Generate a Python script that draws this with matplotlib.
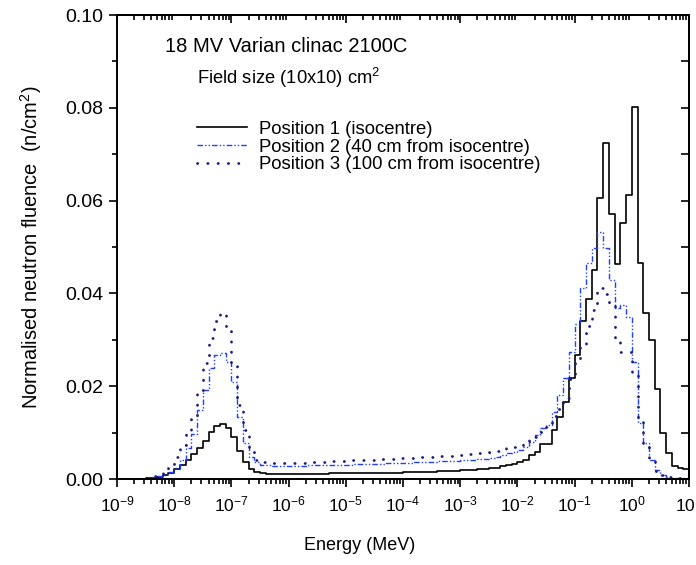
import numpy as np
import matplotlib
matplotlib.use("Agg")
import matplotlib.pyplot as plt
from matplotlib.ticker import LogLocator, MultipleLocator, FormatStrFormatter, NullFormatter

plt.rcParams['font.family'] = ['Liberation Sans', 'DejaVu Sans']
plt.rcParams['mathtext.fontset'] = 'custom'
plt.rcParams['mathtext.rm'] = 'Liberation Sans'

# 10 bins per decade, 1e-9 .. 10 MeV
edges = np.logspace(-9, 1, 101)

# Position 1 (isocentre)
pos1 = [
    0.0000, 0.0000, 0.0000, 0.0001, 0.0001, 0.0002, 0.0003, 0.0005, 0.0008, 0.0013,
    0.0021, 0.0031, 0.0041, 0.0054, 0.0067, 0.0082, 0.0102, 0.0115, 0.0119, 0.0110,
    0.0091, 0.0061, 0.0037, 0.0021, 0.0015, 0.0012, 0.0011, 0.0011, 0.0011, 0.0011,
    0.0011, 0.0011, 0.0011, 0.0011, 0.0011, 0.0011, 0.0011, 0.0012, 0.0012, 0.0012,
    0.0012, 0.0012, 0.0012, 0.0013, 0.0013, 0.0013, 0.0013, 0.0014, 0.0014, 0.0014,
    0.0015, 0.0015, 0.0015, 0.0016, 0.0016, 0.0016, 0.0017, 0.0017, 0.0018, 0.0018,
    0.0019, 0.0019, 0.0020, 0.0021, 0.0022, 0.0023, 0.0024, 0.0027, 0.0030, 0.0033,
    0.0036, 0.0042, 0.0052, 0.0059, 0.0075, 0.0076, 0.0106, 0.0133, 0.0165, 0.0217,
    0.0267, 0.0340, 0.0389, 0.0450, 0.0606, 0.0724, 0.0572, 0.0464, 0.0551, 0.0611,
    0.0801, 0.0465, 0.0357, 0.0300, 0.0195, 0.0100, 0.0055, 0.0027, 0.0023, 0.0021,
]

# Position 2 (40 cm from isocentre)
pos2 = [
    0.0000, 0.0000, 0.0001, 0.0001, 0.0001, 0.0002, 0.0004, 0.0006, 0.0010, 0.0015,
    0.0023, 0.0041, 0.0066, 0.0098, 0.0149, 0.0192, 0.0239, 0.0267, 0.0272, 0.0253,
    0.0210, 0.0134, 0.0077, 0.0048, 0.0036, 0.0031, 0.0030, 0.0029, 0.0029, 0.0029,
    0.0029, 0.0029, 0.0029, 0.0030, 0.0030, 0.0030, 0.0030, 0.0031, 0.0031, 0.0031,
    0.0031, 0.0032, 0.0032, 0.0032, 0.0033, 0.0033, 0.0033, 0.0034, 0.0034, 0.0035,
    0.0035, 0.0035, 0.0036, 0.0036, 0.0037, 0.0037, 0.0038, 0.0038, 0.0039, 0.0039,
    0.0040, 0.0041, 0.0042, 0.0043, 0.0044, 0.0046, 0.0048, 0.0051, 0.0055, 0.0059,
    0.0063, 0.0070, 0.0080, 0.0095, 0.0109, 0.0116, 0.0145, 0.0181, 0.0217, 0.0274,
    0.0334, 0.0411, 0.0465, 0.0497, 0.0533, 0.0497, 0.0429, 0.0368, 0.0375, 0.0350,
    0.0253, 0.0120, 0.0077, 0.0041, 0.0019, 0.0009, 0.0004, 0.0003, 0.0002, 0.0002,
]

# Position 3 (100 cm from isocentre)
pos3 = [
    0.0000, 0.0000, 0.0001, 0.0001, 0.0002, 0.0003, 0.0006, 0.0010, 0.0018, 0.0030,
    0.0048, 0.0073, 0.0097, 0.0130, 0.0192, 0.0250, 0.0303, 0.0340, 0.0358, 0.0325,
    0.0250, 0.0160, 0.0105, 0.0060, 0.0042, 0.0036, 0.0035, 0.0035, 0.0035, 0.0035,
    0.0035, 0.0035, 0.0035, 0.0036, 0.0036, 0.0037, 0.0037, 0.0038, 0.0039, 0.0039,
    0.0040, 0.0040, 0.0041, 0.0041, 0.0042, 0.0042, 0.0043, 0.0044, 0.0044, 0.0045,
    0.0045, 0.0046, 0.0046, 0.0047, 0.0047, 0.0048, 0.0049, 0.0049, 0.0050, 0.0051,
    0.0052, 0.0053, 0.0054, 0.0055, 0.0056, 0.0058, 0.0060, 0.0063, 0.0066, 0.0070,
    0.0074, 0.0078, 0.0083, 0.0090, 0.0102, 0.0113, 0.0135, 0.0150, 0.0175, 0.0215,
    0.0250, 0.0290, 0.0330, 0.0365, 0.0411, 0.0398, 0.0375, 0.0296, 0.0274, 0.0274,
    0.0230, 0.0130, 0.0070, 0.0038, 0.0018, 0.0008, 0.0004, 0.0002, 0.0002, 0.0001,
]

labels = ["Position 1 (isocentre)",
          "Position 2 (40 cm from isocentre)",
          "Position 3 (100 cm from isocentre)"]


def steps(vals):
    return np.append(vals, vals[-1])


fig = plt.figure(figsize=(6.96, 5.65), dpi=100)
ax = fig.add_axes([117 / 696, 86 / 565, 572 / 696, 464 / 565])

ax.step(edges, steps(pos1), where="post", color="black", lw=1.2, label=labels[0])
ax.step(edges, steps(pos2), where="post", color="#1f3fff", lw=1.0,
        linestyle=(0, (4, 1.5, 1, 1.5, 1, 1.5)), label=labels[1])
ax.step(edges, steps(pos3), where="post", color="#1c1c80", lw=2.0,
        linestyle=(0, (0.1, 3.6)), dash_capstyle="round", label=labels[2])

ax.set_xscale("log")
ax.set_xlim(1e-9, 10)
ax.set_ylim(0, 0.10)

ax.xaxis.set_major_locator(LogLocator(base=10, numticks=20))
ax.xaxis.set_minor_locator(LogLocator(base=10, subs=np.arange(2, 10), numticks=20))
ax.xaxis.set_minor_formatter(NullFormatter())
ax.yaxis.set_major_locator(MultipleLocator(0.02))
ax.yaxis.set_minor_locator(MultipleLocator(0.01))
ax.yaxis.set_major_formatter(FormatStrFormatter("%.2f"))

ax.tick_params(which="both", direction="out", width=1.2)
ax.tick_params(which="major", length=6)
ax.tick_params(which="minor", length=3.5)
ax.tick_params(axis="x", labelsize=12.5, pad=5)
ax.tick_params(axis="y", labelsize=14, pad=4)

top = ax.secondary_xaxis("top")
top.tick_params(which="both", direction="in", labeltop=False, width=1.2)
top.tick_params(which="major", length=6)
top.tick_params(which="minor", length=3.5)
top.xaxis.set_minor_locator(LogLocator(base=10, subs=np.arange(2, 10), numticks=20))
top.xaxis.set_major_formatter(NullFormatter())
top.xaxis.set_minor_formatter(NullFormatter())

right = ax.secondary_yaxis("right")
right.yaxis.set_major_locator(MultipleLocator(0.01))
right.tick_params(which="both", direction="in", labelright=False, width=1.2, length=6)

for sp in list(ax.spines.values()) + [top.spines["top"], right.spines["right"]]:
    sp.set_linewidth(1.4)

ax.set_xlabel("Energy (MeV)", fontsize=13)
ax.xaxis.set_label_coords(0.425, -0.125)
ax.set_ylabel("Normalised neutron fluence  (n/cm$^2$)", fontsize=14.5)
ax.yaxis.set_label_coords(-0.128, 0.5)

ax.text(0.084, 0.933, "18 MV Varian clinac 2100C", transform=ax.transAxes,
        fontsize=14.5, va="center", ha="left")
ax.text(0.14, 0.864, "Field size (10x10) cm$^2$", transform=ax.transAxes,
        fontsize=13.2, va="center", ha="left")

ax.legend(loc="upper left", bbox_to_anchor=(0.14, 0.772), frameon=False,
          fontsize=13.3, handlelength=2.7, handletextpad=0.65,
          labelspacing=0.04, borderpad=0, borderaxespad=0)

fig.savefig("out.png", dpi=100)
